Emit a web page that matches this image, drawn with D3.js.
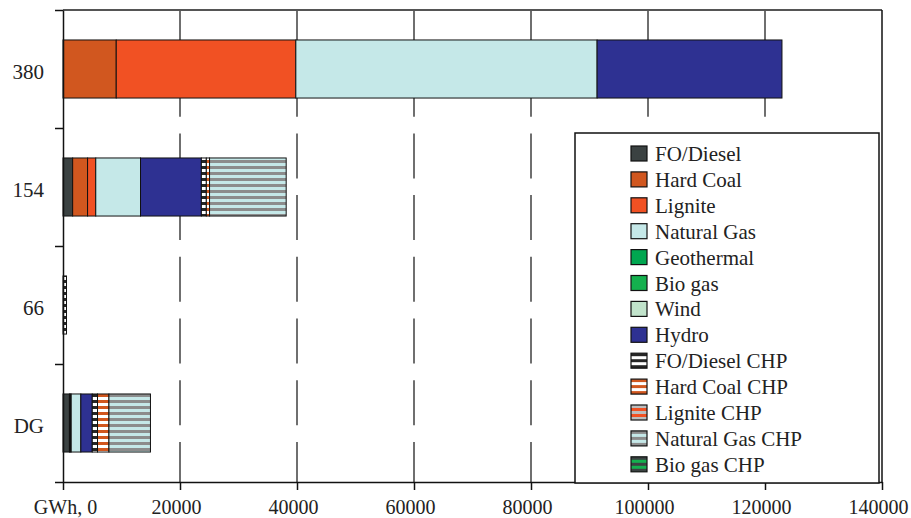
<!DOCTYPE html>
<html>
<head>
<meta charset="utf-8">
<script src="https://cdn.jsdelivr.net/npm/d3@7"></script>
<style>
  body { margin: 0; background: #fff; }
</style>
</head>
<body>
<div id="chart"></div>
<script>
// Categories (voltage levels), top to bottom
var categories = ["380", "154", "66", "DG"];

// Series values in GWh, one entry per category
var foDiesel      = [0,     1650,  0,   1100];
var hardCoal      = [9100,  2550,  0,   150];
var lignite       = [30700, 1400,  0,   150];
var naturalGas    = [51500, 7650,  0,   1650];
var geothermal    = [0,     0,     0,   0];
var bioGas        = [0,     0,     0,   0];
var wind          = [0,     0,     0,   0];
var hydro         = [31600, 10400, 0,   1950];
var foDieselChp   = [0,     850,   600, 900];
var hardCoalChp   = [0,     550,   0,   1950];
var ligniteChp    = [0,     0,     0,   0];
var naturalGasChp = [0,     13100, 0,   7100];
var bioGasChp     = [0,     0,     0,   0];

var seriesNames = ["FO/Diesel", "Hard Coal", "Lignite", "Natural Gas", "Geothermal",
  "Bio gas", "Wind", "Hydro", "FO/Diesel CHP", "Hard Coal CHP", "Lignite CHP",
  "Natural Gas CHP", "Bio gas CHP"];
var seriesValues = [foDiesel, hardCoal, lignite, naturalGas, geothermal, bioGas,
  wind, hydro, foDieselChp, hardCoalChp, ligniteChp, naturalGasChp, bioGasChp];

var xTicks = [0, 20000, 40000, 60000, 80000, 100000, 120000, 140000];

// solid fills, and two-colour stripes for the CHP series
var fills = {
  "FO/Diesel": "#3b4242",
  "Hard Coal": "#d1571f",
  "Lignite": "#f15123",
  "Natural Gas": "#c5e8e8",
  "Geothermal": "#00a650",
  "Bio gas": "#14b04e",
  "Wind": "#c1e3cb",
  "Hydro": "#2e3192"
};
var stripes = {
  "FO/Diesel CHP": ["#ffffff", "#262626"],
  "Hard Coal CHP": ["#ffffff", "#d1571f"],
  "Lignite CHP": ["#f15123", "#bdbdbd"],
  "Natural Gas CHP": ["#c5e8e8", "#8c8c8c"],
  "Bio gas CHP": ["#14b04e", "#3b4242"]
};

var serif = '"Liberation Serif", "DejaVu Serif", "Times New Roman", serif';

var svgWidth = 911;
var svgHeight = 518;
var margin = { top: 10, right: 29, bottom: 36, left: 63 };
var width = svgWidth - margin.left - margin.right;
var height = svgHeight - margin.top - margin.bottom;

var svg = d3.select("#chart")
  .append("svg")
  .attr("width", svgWidth)
  .attr("height", svgHeight);

// stripe patterns
var defs = svg.append("defs");
Object.keys(stripes).forEach(function(name, i) {
  var p = defs.append("pattern")
    .attr("id", "pat" + i)
    .attr("patternUnits", "userSpaceOnUse")
    .attr("width", 6)
    .attr("height", 6);
  p.append("rect").attr("width", 6).attr("height", 6).attr("fill", stripes[name][0]);
  p.append("rect").attr("width", 6).attr("height", 3).attr("fill", stripes[name][1]);
});

function fillOf(name) {
  if (fills[name]) return fills[name];
  return "url(#pat" + Object.keys(stripes).indexOf(name) + ")";
}

var plotGroup = svg.append("g")
  .attr("transform", `translate(${margin.left}, ${margin.top})`);

// table for d3.stack
var table = categories.map(function(c, i) {
  var row = { category: c };
  seriesNames.forEach(function(s, j) { row[s] = seriesValues[j][i]; });
  return row;
});
var stacked = d3.stack().keys(seriesNames)(table);

var xScale = d3.scaleLinear()
  .domain([0, 140000])
  .range([0, width]);

var yBand = d3.scaleBand()
  .domain(categories)
  .range([0, height])
  .paddingInner(0.508)
  .paddingOuter(0.254);

var yEdges = d3.scaleLinear()
  .domain([0, categories.length])
  .range([0, height]);

// dashed gridlines
plotGroup.selectAll(".grid")
  .data(xTicks.slice(1, -1))
  .enter()
  .append("line")
  .attr("x1", d => xScale(d))
  .attr("x2", d => xScale(d))
  .attr("y1", 0)
  .attr("y2", height)
  .attr("stroke", "#333")
  .attr("stroke-width", 1.4)
  .attr("stroke-dasharray", "45,16.7");

// top and right border
plotGroup.append("line")
  .attr("x1", 0).attr("x2", width).attr("y1", 0).attr("y2", 0)
  .attr("stroke", "#555").attr("stroke-width", 2);
plotGroup.append("line")
  .attr("x1", width).attr("x2", width).attr("y1", 0).attr("y2", height)
  .attr("stroke", "#111").attr("stroke-width", 1.5);

// bars
plotGroup.selectAll(".series")
  .data(stacked)
  .enter()
  .append("g")
  .attr("fill", d => fillOf(d.key))
  .selectAll("rect")
  .data(d => d.filter(v => v[1] - v[0] > 0))
  .enter()
  .append("rect")
  .attr("x", d => xScale(d[0]))
  .attr("width", d => xScale(d[1]) - xScale(d[0]))
  .attr("y", d => yBand(d.data.category))
  .attr("height", yBand.bandwidth())
  .attr("stroke", "#111")
  .attr("stroke-width", 1);

// bottom axis
var bottomAxis = d3.axisBottom(xScale)
  .tickValues(xTicks)
  .tickSize(8)
  .tickSizeOuter(0)
  .tickFormat(d => d === 0 ? "GWh, 0" : String(d));

var xAxisG = plotGroup.append("g")
  .attr("transform", `translate(0, ${height})`)
  .call(bottomAxis);
xAxisG.selectAll("text")
  .attr("y", 32)
  .attr("dy", null)
  .attr("dx", d => d === 0 ? 2 : -4)
  .style("font-size", "20px");

// left axis: boundary ticks and category labels
var leftTicks = d3.axisLeft(yEdges)
  .tickValues(d3.range(categories.length + 1))
  .tickSize(8)
  .tickSizeOuter(0)
  .tickFormat("");
plotGroup.append("g").call(leftTicks);

var leftLabels = d3.axisLeft(yBand)
  .tickSize(0)
  .tickPadding(19);
var yAxisG = plotGroup.append("g").call(leftLabels);
yAxisG.select(".domain").remove();
yAxisG.selectAll("text")
  .attr("dy", "0.48em")
  .style("font-size", "21px");

svg.selectAll(".domain, .tick line")
  .attr("stroke", "#111")
  .attr("stroke-width", 1.5);

// legend
var legend = svg.append("g")
  .attr("transform", "translate(575, 133)");

legend.append("rect")
  .attr("width", 304)
  .attr("height", 350)
  .attr("fill", "#fff")
  .attr("stroke", "#111")
  .attr("stroke-width", 1.5);

var rows = legend.selectAll(".row")
  .data(seriesNames)
  .enter()
  .append("g")
  .attr("transform", (d, i) => `translate(0, ${13 + i * 25.9})`);

rows.append("rect")
  .attr("x", 56)
  .attr("width", 16)
  .attr("height", 15)
  .attr("fill", d => fillOf(d))
  .attr("stroke", "#111")
  .attr("stroke-width", 1.2);

rows.append("text")
  .attr("x", 80)
  .attr("y", 15)
  .style("font-size", "21px")
  .text(d => d);

svg.selectAll("text")
  .style("font-family", serif)
  .style("fill", "#222");
</script>
</body>
</html>
